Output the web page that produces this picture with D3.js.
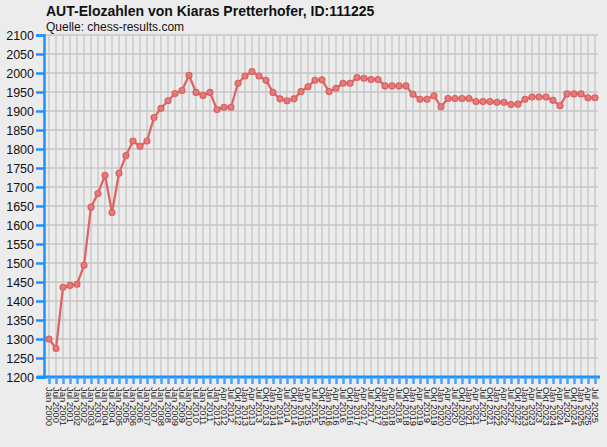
<!DOCTYPE html>
<html>
<head>
<meta charset="utf-8">
<script src="https://cdn.jsdelivr.net/npm/d3@7"></script>
<style>
  body { margin:0; background:#ececec; }
  svg { display:block; font-family:"Liberation Sans", Arial, sans-serif; }
</style>
</head>
<body>
<script>
const width = 607;
const height = 447;
const margin = {top:35, right:12, bottom:70, left:44};

const chartTitle = "AUT-Elozahlen von Kiaras Pretterhofer, ID:111225";
const chartSource = "Quelle: chess-results.com";

const dates = [
  "Jan 2000","Jul 2000","Jan 2001","Jul 2001","Jan 2002","Jul 2002","Jan 2003","Jul 2003",
  "Jan 2004","Jul 2004","Jan 2005","Jul 2005","Jan 2006","Jul 2006","Jan 2007","Jul 2007",
  "Jan 2008","Jul 2008","Jan 2009","Jul 2009","Jan 2010","Jul 2010","Jan 2011","Jul 2011",
  "Jan 2012","Apr 2012","Jul 2012","Okt 2012",
  "Jan 2013","Apr 2013","Jul 2013","Okt 2013","Jan 2014","Apr 2014","Jul 2014","Okt 2014",
  "Jan 2015","Apr 2015","Jul 2015","Okt 2015","Jan 2016","Apr 2016","Jul 2016","Okt 2016",
  "Jan 2017","Apr 2017","Jul 2017","Okt 2017","Jan 2018","Apr 2018","Jul 2018","Okt 2018",
  "Jan 2019","Apr 2019","Jul 2019","Okt 2019","Jan 2020","Apr 2020","Jul 2020","Okt 2020",
  "Jan 2021","Apr 2021","Jul 2021","Okt 2021","Jan 2022","Apr 2022","Jul 2022","Okt 2022",
  "Jan 2023","Apr 2023","Jul 2023","Okt 2023","Jan 2024","Apr 2024","Jul 2024","Okt 2024",
  "Jan 2025","Apr 2025","Jul 2025"
];

const elo = [
  1300,1275,1436,1441,1444,1494,1647,1683,1731,1633,1736,1783,1821,1807,1821,1883,
  1907,1927,1946,1954,1994,1949,1941,1949,1904,1910,1910,1973,1992,2004,1992,1981,
  1949,1932,1927,1932,1951,1964,1981,1982,1951,1960,1973,1973,1988,1986,1983,1983,
  1966,1966,1966,1966,1944,1931,1931,1940,1911,1933,1933,1933,1933,1925,1925,1925,
  1923,1923,1917,1918,1931,1937,1937,1937,1928,1914,1945,1945,1945,1935,1935
];

const yTicks = d3.range(1200, 2101, 50);

const svg = d3.select("body").append("svg")
  .attr("width", width)
  .attr("height", height);

svg.append("rect")
  .attr("width", width)
  .attr("height", height)
  .attr("fill", "#ececec");

const x = d3.scalePoint().domain(dates).range([49, 595]);
const y = d3.scaleLinear().domain([1200, 2100]).range([height-margin.bottom, margin.top]);

// grid
svg.append("g").selectAll("line.v")
  .data(dates)
  .join("line")
  .attr("x1", d=>x(d)).attr("x2", d=>x(d))
  .attr("y1", y(2100)).attr("y2", y(1200))
  .style("stroke", "#c6c6c6").style("stroke-width", 1.3);

svg.append("g").selectAll("line.h")
  .data(yTicks)
  .join("line")
  .attr("x1", margin.left).attr("x2", 598)
  .attr("y1", d=>y(d)).attr("y2", d=>y(d))
  .style("stroke", "#c6c6c6").style("stroke-width", 1.3);

// y axis
const yAxis = svg.append("g")
  .attr("transform", `translate(${margin.left},0)`)
  .call(d3.axisLeft(y).tickValues(yTicks).tickSize(8).tickPadding(2).tickFormat(d3.format("d")));
yAxis.select(".domain").attr("stroke", "#1e90ff").attr("stroke-width", 2.5);
yAxis.selectAll(".tick line").attr("stroke", "#1e90ff").attr("stroke-width", 2.5);
yAxis.selectAll(".tick text")
  .attr("fill", "#111")
  .style("font-size", "12.5px")
  .style("font-family", "'Liberation Sans', Arial, sans-serif");

// x axis
const xAxis = svg.append("g")
  .attr("transform", `translate(0,${height-margin.bottom})`)
  .call(d3.axisBottom(x).tickSize(7).tickSizeOuter(0).tickPadding(4));
xAxis.select(".domain").attr("d", "M37,0H600").attr("stroke", "#1e90ff").attr("stroke-width", 3);
xAxis.selectAll(".tick line").attr("stroke", "#4aa3ff").attr("stroke-width", 2.5);
xAxis.selectAll(".tick text")
  .attr("fill", "#222")
  .attr("transform", "rotate(90)")
  .attr("text-anchor", "start")
  .attr("x", 10)
  .attr("y", 0)
  .attr("dy", "0.35em")
  .style("font-size", "9.5px")
  .style("font-family", "'Liberation Sans', Arial, sans-serif");

// line
const line = d3.line()
  .x((d,i)=>x(dates[i]))
  .y(d=>y(d));

svg.append("path")
  .datum(elo)
  .attr("d", line)
  .attr("fill", "none")
  .attr("stroke", "#de6565")
  .attr("stroke-width", 2.3)
  .attr("stroke-linejoin", "round");

svg.append("g").selectAll("circle")
  .data(elo)
  .join("circle")
  .attr("cx", (d,i)=>x(dates[i]))
  .attr("cy", d=>y(d))
  .attr("r", 3)
  .attr("fill", "#e47a7a")
  .attr("stroke", "#da5e5e")
  .attr("stroke-width", 1.1);

// titles
svg.append("text")
  .attr("x", 46)
  .attr("y", 16)
  .style("font-size", "14px")
  .style("font-weight", "bold")
  .attr("fill", "#111")
  .text(chartTitle);

svg.append("text")
  .attr("x", 46)
  .attr("y", 31)
  .style("font-size", "12px")
  .attr("fill", "#111")
  .text(chartSource);
</script>
</body>
</html>
